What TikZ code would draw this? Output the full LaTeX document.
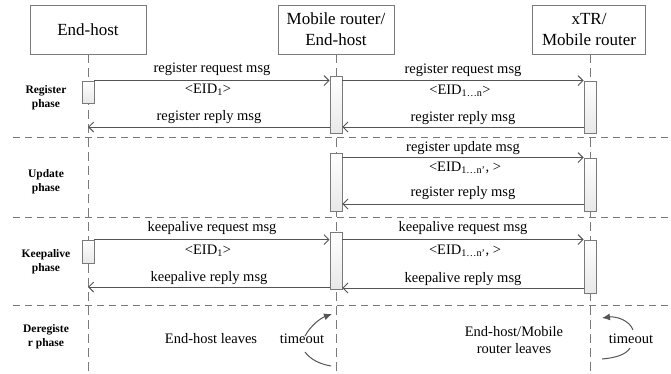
\documentclass[tikz,border=0pt]{standalone}
\usepackage{fontspec}
\setmainfont{Liberation Serif}
\usetikzlibrary{arrows.meta,calc}
\definecolor{linec}{HTML}{555555}
\definecolor{boxc}{HTML}{7A7A7A}
\begin{document}
\begin{tikzpicture}[x=1pt,y=-1pt,
  actor/.style={draw=boxc,line width=0.8pt,minimum width=116pt,minimum height=49pt,align=center,font=\fontsize{17}{21}\selectfont,inner sep=0pt},
  life/.style={draw=boxc,line width=0.9pt,dash pattern=on 9pt off 5pt},
  sep/.style={draw=boxc,line width=0.9pt,dash pattern=on 7pt off 5pt},
  act/.style={draw=boxc,line width=0.8pt,minimum width=12pt,inner sep=0pt,top color=white,bottom color=gray!18},
  msg/.style={draw=linec,line width=0.9pt,-{Straight Barb[length=5pt,width=10pt]}},
  lbl/.style={font=\fontsize{14.5}{17}\selectfont,inner sep=0pt},
  phase/.style={font=\bfseries\fontsize{11.5}{14}\selectfont,align=center,inner sep=0pt},
  tarrow/.style={draw=linec,line width=1pt},
  tip/.style={-{Latex[length=8pt,width=7pt]}}
]
\useasboundingbox (0,0) rectangle (671,373);
% actors
\node[actor] (eh) at (88,29.5) {End-host};
\node[actor] (mr) at (336,29.5) {Mobile router/\\End-host};
\node[actor,minimum width=113pt] (xtr) at (589,29.5) {xTR/\\Mobile router};
% lifeline ends
\coordinate (ehb) at (88,373);
\coordinate (mrb) at (336,373);
\coordinate (xtrb) at (590,373);
\draw[life] (eh.south) -- (ehb);
\draw[life] (mr.south) -- (mrb);
\draw[life] (xtr.south -| xtrb) -- (xtrb);
% separators
\coordinate (s1a) at (13,137); \coordinate (s1b) at (671,137);
\coordinate (s2a) at (13,217); \coordinate (s2b) at (671,217);
\coordinate (s3a) at (13,305); \coordinate (s3b) at (671,305);
\draw[sep] (s1a) -- (s1b);
\draw[sep] (s2a) -- (s2b);
\draw[sep] (s3a) -- (s3b);
% phase labels
\node[phase] (p1) at (46,98) {Register\\phase};
\node[phase] (p2) at (46,182) {Update\\phase};
\node[phase] (p3) at (46,262) {Keepalive\\phase};
\node[phase] (p4) at (46,337) {Deregiste\\r phase};
% activation boxes
\node[act,minimum height=22pt] (a1) at (88,92) {};
\node[act,minimum height=57pt] (m1) at (336,104.5) {};
\node[act,minimum height=52pt] (x1) at (590,107) {};
\node[act,minimum height=58pt] (m2) at (336,182) {};
\node[act,minimum height=53pt] (x2) at (590,184.5) {};
\node[act,minimum height=23pt] (a3) at (88,251.5) {};
\node[act,minimum height=57pt] (m3) at (336,260.5) {};
\node[act,minimum height=53pt] (x3) at (590,266.5) {};
% reply levels
\coordinate (y1) at (0,127);
\coordinate (y2) at (0,204);
\coordinate (y3) at (0,287);
\coordinate (y4) at (0,288);
% register phase
\draw[msg] (a1.north east) -- (a1.north east -| m1.west);
\draw[msg] (m1.west |- y1) -- (ehb |- y1);
\draw[msg] (m1.east |- x1.north) -- (x1.north west);
\draw[msg] (x1.west |- y1) -- (m1.east |- y1);
\node[lbl] (t1) at (212,69) {register request msg};
\node[lbl] (t2) at (208,90) {<EID\textsubscript{1}>};
\node[lbl] (t3) at (209,117) {register reply msg};
\node[lbl] (t4) at (463,70) {register request msg};
\node[lbl] (t5) at (460,91) {<EID\textsubscript{1…n}>};
\node[lbl] (t6) at (463,118) {register reply msg};
% update phase
\draw[msg] (m2.east |- x2.north) -- (x2.north west);
\draw[msg] (x2.west |- y2) -- (m2.east |- y2);
\node[lbl] (u1) at (463,148) {register update msg};
\node[lbl] (u2) at (465,168) {<EID\textsubscript{1…n’}, >};
\node[lbl] (u3) at (463,193) {register reply msg};
% keepalive phase
\draw[msg] (a3.north east) -- (a3.north east -| m3.west);
\draw[msg] (m3.west |- y3) -- (ehb |- y3);
\draw[msg] (m3.east |- x3.north) -- (x3.north west);
\draw[msg] (x3.west |- y4) -- (m3.east |- y4);
\node[lbl] (k1) at (212,228) {keepalive request msg};
\node[lbl] (k2) at (208,251) {<EID\textsubscript{1}>};
\node[lbl] (k3) at (209,278) {keepalive reply msg};
\node[lbl] (k4) at (463,228) {keepalive request msg};
\node[lbl] (k5) at (465,251) {<EID\textsubscript{1…n’}, >};
\node[lbl] (k6) at (463,279) {keepalive reply msg};
% deregister phase
\node[lbl] (d1) at (211,339) {End-host leaves};
\node[lbl] (d2) at (302,339) {timeout};
\node[lbl,align=center] (d3) at (514,340) {End-host/Mobile\\router leaves};
\node[lbl] (d4) at (631,339) {timeout};
\draw[tarrow,tip] (305,336) .. controls (311,325) and (321,318) .. (332,314);
\draw[tarrow] (305,352) .. controls (311,360) and (320,364) .. (331,366);
\draw[tarrow,tip] (633,330) .. controls (630,321) and (617,316) .. (602,318);
\draw[tarrow] (630,348) .. controls (626,355) and (614,358) .. (602,359);
\end{tikzpicture}
\end{document}
